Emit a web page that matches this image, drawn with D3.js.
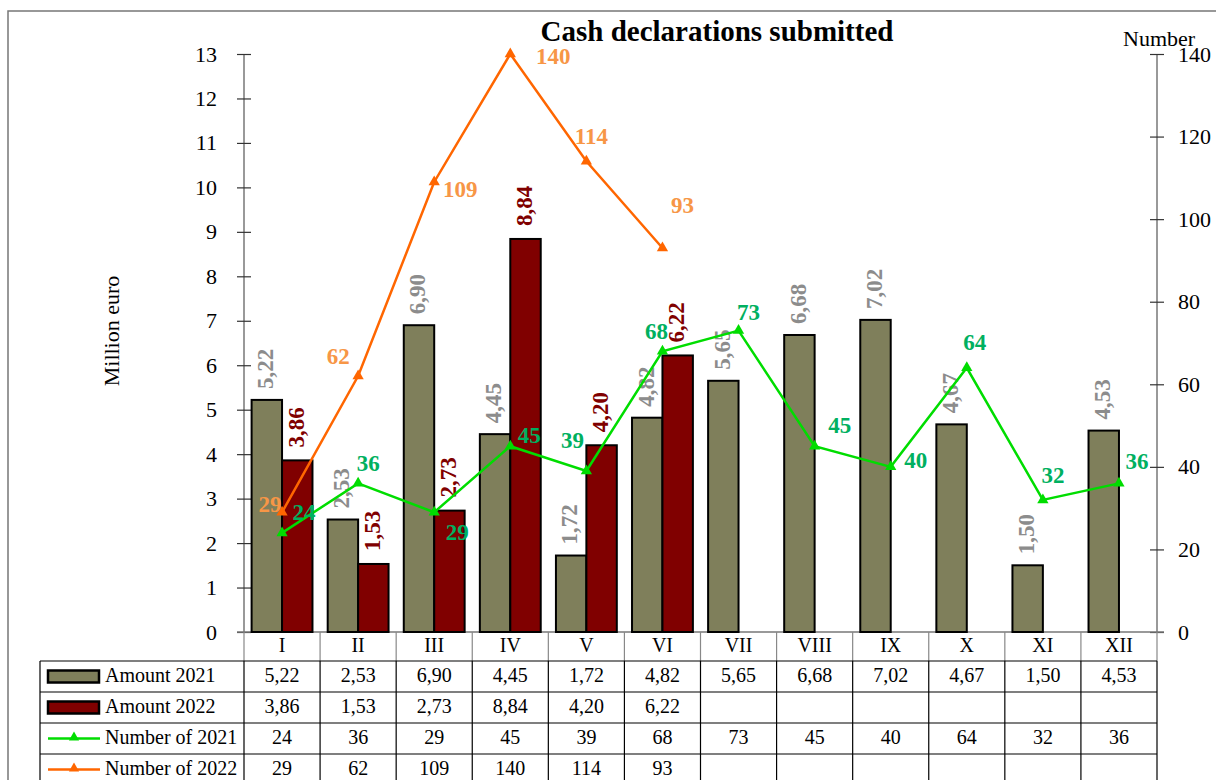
<!DOCTYPE html>
<html><head><meta charset="utf-8">
<script src="https://cdn.jsdelivr.net/npm/d3@7"></script>
<style>body{margin:0;background:#fff}svg{display:block;font-family:"Liberation Serif","Times New Roman",serif}</style>
</head><body><svg id="c" width="1216" height="780"></svg>
<script>
const months = ["I","II","III","IV","V","VI","VII","VIII","IX","X","XI","XII"];
const amount2021 = [5.22,2.53,6.90,4.45,1.72,4.82,5.65,6.68,7.02,4.67,1.50,4.53];
const amount2022 = [3.86,1.53,2.73,8.84,4.20,6.22,null,null,null,null,null,null];
const number2021 = [24,36,29,45,39,68,73,45,40,64,32,36];
const number2022 = [29,62,109,140,114,93,null,null,null,null,null,null];
const leftTicks = d3.range(0,14);
const rightTicks = [0,20,40,60,80,100,120,140];
// label placement (dx, dy) relative to the point
const lbl2021 = [[22,-18],[10,-18],[23,22],[19,-8],[-14,-28],[-6,-18],[10,-16],[25,-18],[25,-4],[8,-23],[10,-22],[18,-20]];
const lbl2022 = [[-12,-6],[-20,-17],[26,10],[43,5],[5,-23],[20,-40]];

const svg = d3.select("#c");
const L=244, R=1157, T=54, B=632;
const x = d3.scaleBand().domain(months).range([L,R]);
const xs = d3.scaleBand().domain(["a","b"]).range([0,x.bandwidth()]).paddingOuter(0.25);
const yL = d3.scaleLinear().domain([0,13]).range([B,T]);
const yR = d3.scaleLinear().domain([0,140]).range([B,T]);
const fmt = v => v.toFixed(2).replace(".",",");

// frame
svg.append("path").attr("d","M8,780V11H1216").attr("fill","none").attr("stroke","#777").attr("stroke-width",1.5);

// title
svg.append("text").attr("x",717).attr("y",41).attr("text-anchor","middle").attr("font-weight","bold").attr("font-size",29).text("Cash declarations submitted");
svg.append("text").attr("x",1123).attr("y",46).attr("font-size",22).text("Number");
svg.append("text").attr("transform","translate(119,331) rotate(-90)").attr("text-anchor","middle").attr("font-size",22).text("Million euro");

// axes
const gl = svg.append("g").attr("transform",`translate(${L},0)`).call(d3.axisLeft(yL).tickValues(leftTicks).tickSize(7).tickPadding(20).tickFormat(d3.format("d")));
const gr = svg.append("g").attr("transform",`translate(${R},0)`).call(d3.axisRight(yR).tickValues(rightTicks).tickSize(7).tickPadding(14).tickFormat(d3.format("d")));
[gl,gr].forEach(g=>{
  g.select(".domain").attr("d", `M0,${T}V${B}`).attr("stroke","#777").attr("stroke-width",1.5);
  g.selectAll(".tick line").attr("x1",-7).attr("x2",7).attr("stroke","#333").attr("stroke-width",1.2);
  g.selectAll("text").attr("font-size",22).attr("font-family","Liberation Serif").attr("fill","#000");
});
gr.selectAll("text").attr("x",21);
svg.append("line").attr("x1",L-7).attr("x2",R+7).attr("y1",B).attr("y2",B).attr("stroke","#777").attr("stroke-width",1.5);

// bars
const c21="#7f7f5b", c22="#800000";
svg.append("g").selectAll("rect").data(amount2021).join("rect")
  .attr("x",(d,i)=>x(months[i])+xs("a")).attr("width",xs.bandwidth())
  .attr("y",d=>yL(d)).attr("height",d=>B-yL(d)).attr("fill",c21).attr("stroke","#000").attr("stroke-width",2);
svg.append("g").selectAll("rect").data(amount2022.map((d,i)=>[d,i]).filter(d=>d[0]!=null)).join("rect")
  .attr("x",d=>x(months[d[1]])+xs("b")).attr("width",xs.bandwidth())
  .attr("y",d=>yL(d[0])).attr("height",d=>B-yL(d[0])).attr("fill",c22).attr("stroke","#000").attr("stroke-width",2);

// bar labels
svg.append("g").selectAll("text").data(amount2021).join("text")
  .attr("transform",(d,i)=>`translate(${x(months[i])+xs("a")+xs.bandwidth()/2+1},${yL(d)-11}) rotate(-90)`)
  .attr("dominant-baseline","middle").attr("font-weight","bold").attr("font-size",23).attr("fill","#8c8c8c").text(fmt);
svg.append("g").selectAll("text").data(amount2022.map((d,i)=>[d,i]).filter(d=>d[0]!=null)).join("text")
  .attr("transform",d=>`translate(${x(months[d[1]])+xs("b")+xs.bandwidth()/2+1},${yL(d[0])-13}) rotate(-90)`)
  .attr("dominant-baseline","middle").attr("font-weight","bold").attr("font-size",23).attr("fill",c22).text(d=>fmt(d[0]));

// lines
const cx = m => x(m)+x.bandwidth()/2;
const tri = d3.symbol().type(d3.symbolTriangle).size(55);
function series(vals, lineCol, labCol, offs){
  const pts = vals.map((v,i)=>[v,i]).filter(d=>d[0]!=null);
  svg.append("path").datum(pts).attr("fill","none").attr("stroke",lineCol).attr("stroke-width",2.5)
    .attr("d", d3.line().x(d=>cx(months[d[1]])).y(d=>yR(d[0])));
  svg.append("g").selectAll("path").data(pts).join("path").attr("d",tri)
    .attr("transform",d=>`translate(${cx(months[d[1]])},${yR(d[0])})`).attr("fill",lineCol);
  svg.append("g").selectAll("text").data(pts).join("text")
    .attr("x",d=>cx(months[d[1]])+offs[d[1]][0]).attr("y",d=>yR(d[0])+offs[d[1]][1])
    .attr("text-anchor","middle").attr("dominant-baseline","middle")
    .attr("font-weight","bold").attr("font-size",23).attr("fill",labCol).text(d=>d[0]);
}
series(number2022,"#ff6600","#f79646",lbl2022);
series(number2021,"#00dd00","#00b060",lbl2021);

// data table
const tl=40, rowTop=[661,692,723,754], rowH=31;
const tg = svg.append("g");
months.forEach((m,i)=>{
  tg.append("line").attr("x1",x(m)).attr("x2",x(m)).attr("y1",B).attr("y2",661).attr("stroke","#888").attr("stroke-width",1.2);
});
tg.append("line").attr("x1",R).attr("x2",R).attr("y1",B).attr("y2",661).attr("stroke","#888").attr("stroke-width",1.2);
tg.selectAll("text.cat").data(months).join("text").attr("class","cat")
  .attr("x",m=>cx(m)).attr("y",647).attr("text-anchor","middle").attr("dominant-baseline","middle").attr("font-size",20).text(m=>m);
rowTop.concat([785]).forEach(y=>tg.append("line").attr("x1",tl).attr("x2",R).attr("y1",y).attr("y2",y).attr("stroke","#000").attr("stroke-width",1.2));
[tl].concat(months.map(m=>x(m))).concat([R]).forEach(xx=>tg.append("line").attr("x1",xx).attr("x2",xx).attr("y1",661).attr("y2",785).attr("stroke","#000").attr("stroke-width",1.2));

const rows = [
  {name:"Amount 2021", vals:amount2021.map(v=>fmt(v)), type:"bar", col:c21},
  {name:"Amount 2022", vals:amount2022.map(v=>v==null?"":fmt(v)), type:"bar", col:c22},
  {name:"Number of 2021", vals:number2021.map(v=>String(v)), type:"line", col:"#00dd00"},
  {name:"Number of 2022", vals:number2022.map(v=>v==null?"":String(v)), type:"line", col:"#ff6600"}
];
rows.forEach((r,ri)=>{
  const yc = rowTop[ri]+rowH/2;
  if(r.type==="bar"){
    tg.append("rect").attr("x",48).attr("y",yc-6).attr("width",51).attr("height",12).attr("fill",r.col).attr("stroke","#000").attr("stroke-width",2.5);
  } else {
    tg.append("line").attr("x1",48).attr("x2",100).attr("y1",yc).attr("y2",yc).attr("stroke",r.col).attr("stroke-width",2.5);
    tg.append("path").attr("d",d3.symbol().type(d3.symbolTriangle).size(45)).attr("transform",`translate(74,${yc-1})`).attr("fill",r.col);
  }
  tg.append("text").attr("x",105).attr("y",yc+1).attr("dominant-baseline","middle").attr("font-size",20).text(r.name);
  r.vals.forEach((v,i)=>tg.append("text").attr("x",cx(months[i])).attr("y",yc+1).attr("text-anchor","middle").attr("dominant-baseline","middle").attr("font-size",20).text(v));
});
</script></body></html>
